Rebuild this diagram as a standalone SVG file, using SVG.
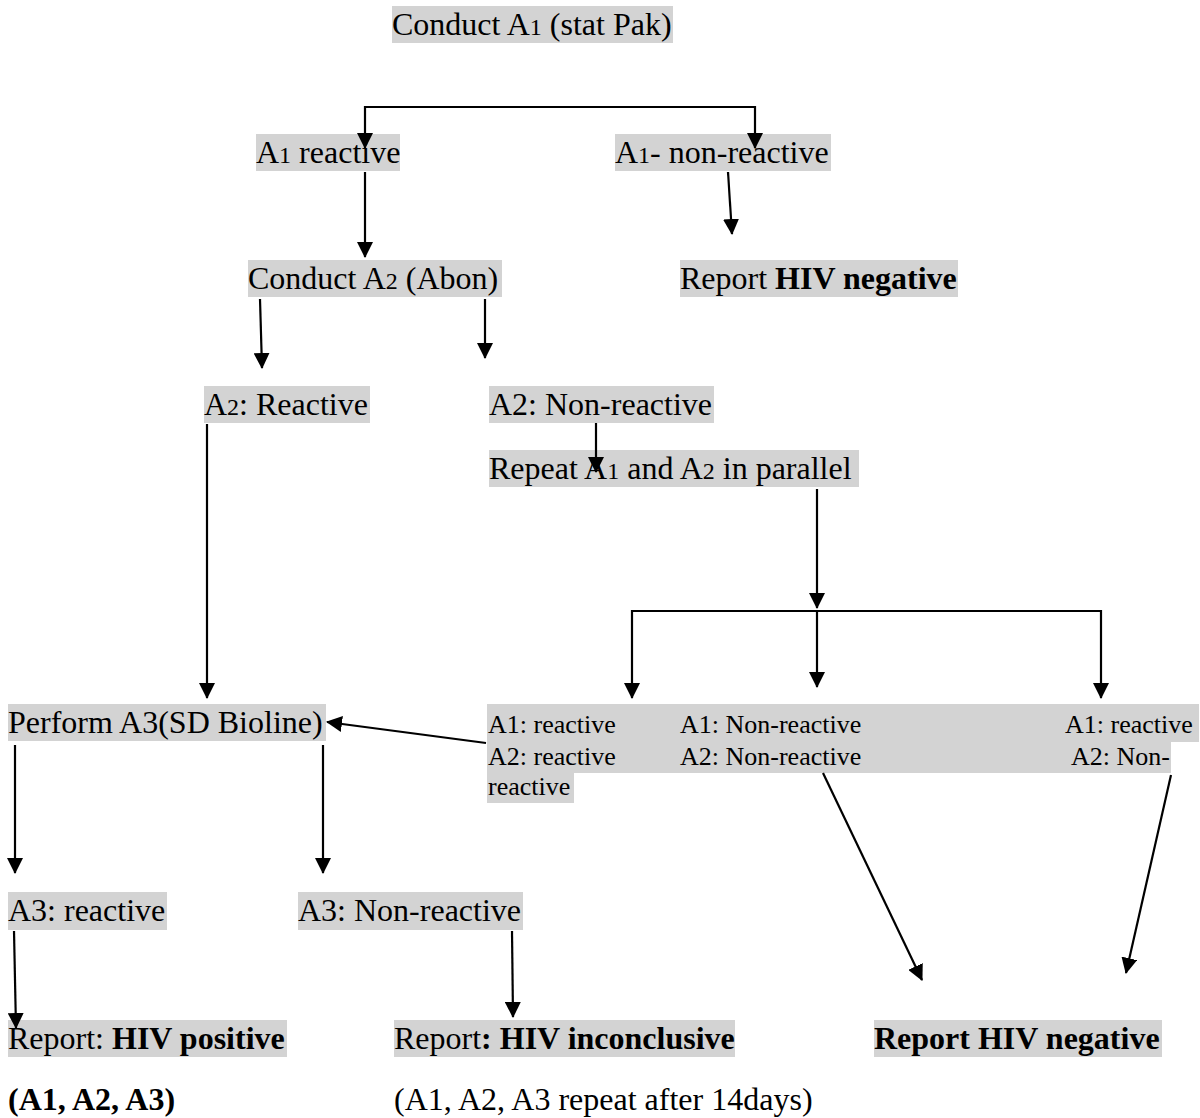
<svg xmlns="http://www.w3.org/2000/svg" width="1200" height="1118" viewBox="0 0 1200 1118">
<style>
.bg{fill:#d3d3d3}
text{font-family:"Liberation Serif","Times New Roman",serif;fill:#000}
.t{font-size:32px}
.s{font-size:26px}
.sub{font-size:24px}
.b{font-weight:bold}
.c{fill:none;stroke:#000;stroke-width:2.2;marker-end:url(#ah)}
.l{fill:none;stroke:#000;stroke-width:2.2}
</style>
<defs>
<marker id="ah" viewBox="0 0 16 16" refX="15" refY="8" markerWidth="16" markerHeight="16" markerUnits="userSpaceOnUse" orient="auto">
<path d="M0,0 L16,8 L0,16 Z" fill="#000"/>
</marker>
</defs>
<rect width="1200" height="1118" fill="#fff"/>
<g id="nodes">
<g id="n-conduct-a1"><rect class="bg" x="392" y="6" width="281" height="37"/><text class="t" x="392" y="35">Conduct A<tspan class="sub">1</tspan> (stat Pak)</text></g>
<g id="n-a1-reactive"><rect class="bg" x="256" y="134" width="144" height="37"/><text class="t" x="256" y="163">A<tspan class="sub">1</tspan> reactive</text></g>
<g id="n-a1-nonreactive"><rect class="bg" x="615" y="134" width="216" height="37"/><text class="t" x="615" y="163">A<tspan class="sub">1</tspan>- non-reactive</text></g>
<g id="n-conduct-a2"><rect class="bg" x="248" y="260" width="254" height="37"/><text class="t" x="248" y="289">Conduct A<tspan class="sub">2</tspan> (Abon)</text></g>
<g id="n-report-neg-top"><rect class="bg" x="680" y="260" width="278" height="37"/><text class="t" x="680" y="289">Report <tspan class="b">HIV negative</tspan></text></g>
<g id="n-a2-reactive"><rect class="bg" x="204" y="386" width="166" height="37"/><text class="t" x="204" y="415">A<tspan class="sub">2</tspan>: Reactive</text></g>
<g id="n-a2-nonreactive"><rect class="bg" x="489" y="386" width="225" height="37"/><text class="t" x="489" y="415">A2: Non-reactive</text></g>
<g id="n-repeat"><rect class="bg" x="489" y="450" width="370" height="37"/><text class="t" x="489" y="479">Repeat A<tspan class="sub">1</tspan> and A<tspan class="sub">2</tspan> in parallel</text></g>
<g id="n-perform-a3"><rect class="bg" x="8" y="704" width="318" height="37"/><text class="t" x="8" y="733">Perform A3(SD Bioline)</text></g>
<g id="n-results">
<path class="bg" d="M487,704 H1199 V742 H1171 V773 H574 V803 H487 Z"/>
<text class="s" x="488" y="733">A1: reactive</text>
<text class="s" x="488" y="765">A2: reactive</text>
<text class="s" x="488" y="795">reactive</text>
<text class="s" x="680" y="733">A1: Non-reactive</text>
<text class="s" x="680" y="765">A2: Non-reactive</text>
<text class="s" x="1065" y="733">A1: reactive</text>
<text class="s" x="1071" y="765">A2: Non-</text>
</g>
<g id="n-a3-reactive"><rect class="bg" x="8" y="892" width="159" height="38"/><text class="t" x="8" y="921">A3: reactive</text></g>
<g id="n-a3-nonreactive"><rect class="bg" x="298" y="892" width="225" height="38"/><text class="t" x="298" y="921">A3: Non-reactive</text></g>
<g id="n-report-pos"><rect class="bg" x="8" y="1020" width="279" height="37"/><text class="t" x="8" y="1049">Report: <tspan class="b">HIV positive</tspan></text></g>
<g id="n-report-inc"><rect class="bg" x="394" y="1020" width="341" height="37"/><text class="t" x="394" y="1049">Report<tspan class="b">: HIV inconclusive</tspan></text></g>
<g id="n-report-neg-bottom"><rect class="bg" x="874" y="1020" width="288" height="37"/><text class="t b" x="874" y="1049">Report HIV negative</text></g>
<g id="n-note-pos"><text class="t b" x="8" y="1110">(A1, A2, A3)</text></g>
<g id="n-note-inc"><text class="t" x="394" y="1110">(A1, A2, A3 repeat after 14days)</text></g>
</g>
<g id="connectors">
<path class="c" d="M560,107 H365 V148"/>
<path class="c" d="M560,107 H755 V148"/>
<path class="c" d="M365,172 V257"/>
<path class="c" d="M728,172 L732,234"/>
<path class="c" d="M260,299 L262,368"/>
<path class="c" d="M485,299 V358"/>
<path class="c" d="M596,423 V472"/>
<path class="c" d="M207,424 V698"/>
<path class="c" d="M817,489 V608"/>
<path class="c" d="M817,611 H632 V698"/>
<path class="c" d="M817,611 V687"/>
<path class="c" d="M817,611 H1101 V698"/>
<path class="c" d="M486,743 L327,722"/>
<path class="c" d="M15,745 V873"/>
<path class="c" d="M323,745 V873"/>
<path class="c" d="M14,931 L16,1028"/>
<path class="c" d="M512,931 L513,1017"/>
<path class="c" d="M823,773 L922,980"/>
<path class="c" d="M1171,775 L1126,973"/>
</g>
</svg>
